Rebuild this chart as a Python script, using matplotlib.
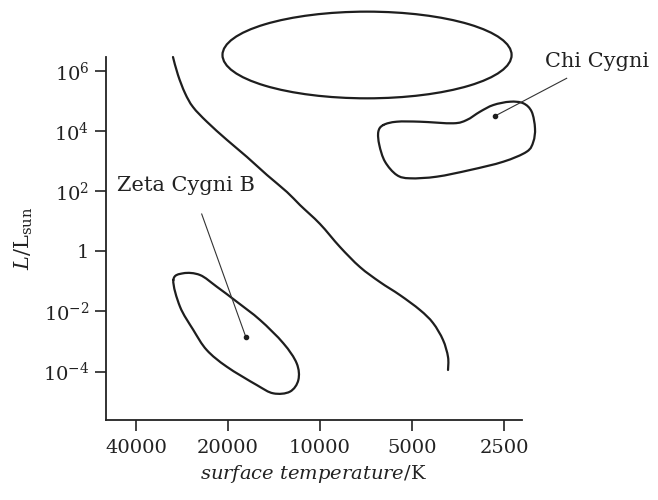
import numpy as np
import matplotlib
matplotlib.use("Agg")
import matplotlib.pyplot as plt
from matplotlib.patches import Ellipse, PathPatch
from matplotlib.path import Path

plt.rcParams['font.family'] = ['DejaVu Serif']
plt.rcParams['mathtext.fontset'] = 'dejavuserif'

# ---------------- data ----------------
x_ticks = [40000, 20000, 10000, 5000, 2500]
x_ticklabels = ['40000', '20000', '10000', '5000', '2500']
y_ticks = [1e-4, 1e-2, 1, 1e2, 1e4, 1e6]
y_ticklabels = [r'$10^{-4}$', r'$10^{-2}$', '1', r'$10^{2}$', r'$10^{4}$', r'$10^{6}$']

# main sequence
ms_T = [30270, 29150, 27650, 26030, 23430, 20150, 17330, 14910, 12820, 11630,
        10000, 8600, 7400, 6365, 5473, 4707, 4267, 3957, 3811, 3811]
ms_L = [2.85e6, 7.2e5, 1.8e5, 6.2e4, 2.0e4, 5.0e3, 1.36e3, 343, 93, 34.5,
        8.1, 1.39, 0.30, 0.095, 0.035, 0.0112, 4.15e-3, 1.13e-3, 3.08e-4, 1.14e-4]

# giant region (closed loop)
giant_T = [6205, 5609, 4707, 3662, 3311, 2994, 2709, 2389, 2161, 2029, 1979,
           2004, 2106, 2512, 3228, 4150, 5074, 5609, 6126, 6395, 6443]
giant_L = [1.57e4, 2.02e4, 2.02e4, 1.79e4, 2.30e4, 4.35e4, 7.24e4, 9.33e4, 8.26e4,
           4.35e4, 1.22e4, 4.38e3, 2.04e3, 948, 502, 301, 266, 343, 948, 3.40e3,
           9.40e3]

# white dwarf region (closed loop)
wd_T = [30190, 28010, 24700, 21770, 18730, 15710, 13180, 11920, 11770, 12540,
        14220, 16110, 20200, 23480, 25970, 28710]
wd_L = [0.111, 0.186, 0.163, 0.0667, 0.0212, 5.22e-3, 8.79e-4, 1.90e-4, 5.30e-5,
        2.17e-5, 1.91e-5, 3.61e-5, 1.47e-4, 5.26e-4, 2.43e-3, 0.0144]

# supergiant region (ellipse): centre and full extents in decades
sg_center_T = 7015
sg_center_L = 3.33e6
sg_width_dec = 0.946
sg_height_dec = 2.88

# annotations
chi_label = 'Chi Cygni'
chi_star = (2674, 3.13e4)
chi_line_start = (1559, 5.6e5)
chi_text_pos = (1835, 1.95e6)

zeta_label = 'Zeta Cygni B'
zeta_star = (17500, 1.46e-3)
zeta_line_start = (24380, 17.3)
zeta_text_pos = (46150, 148)


def smooth_path(xs, ys, closed):
    """Catmull-Rom curve through the given points (log space) as a Bezier path."""
    P = np.column_stack([np.log10(xs), np.log10(ys)])
    n = len(P)
    if closed:
        idx = lambda i: P[i % n]
        segs = n
    else:
        idx = lambda i: P[min(max(i, 0), n - 1)]
        segs = n - 1
    verts = [P[0]]
    codes = [Path.MOVETO]
    for i in range(segs):
        p0, p1, p2, p3 = idx(i - 1), idx(i), idx(i + 1), idx(i + 2)
        c1 = p1 + (p2 - p0) / 6.0
        c2 = p2 - (p3 - p1) / 6.0
        verts += [c1, c2, p2]
        codes += [Path.CURVE4] * 3
    return Path(np.array(verts), codes)


# ---------------- figure ----------------
fig = plt.figure(figsize=(6.58, 5.0), dpi=100)
ax = fig.add_axes([0.1611, 0.16, 0.6318, 0.7266])
ax.set_xscale('log')
ax.set_yscale('log')
ax.set_xlim(50140, 2187)
ax.set_ylim(2.48e-6, 2.92e6)

lc = '#1e1e1e'
lw = 1.6
log_tr = ax.transLimits + ax.transAxes

for xs, ys, closed in [(ms_T, ms_L, False), (giant_T, giant_L, True), (wd_T, wd_L, True)]:
    patch = PathPatch(smooth_path(xs, ys, closed), fill=False, edgecolor=lc, lw=lw,
                      capstyle='round', joinstyle='round', transform=log_tr,
                      clip_on=False)
    ax.add_patch(patch)

ell = Ellipse((np.log10(sg_center_T), np.log10(sg_center_L)),
              sg_width_dec, sg_height_dec, transform=log_tr,
              fill=False, edgecolor=lc, lw=lw, clip_on=False)
ax.add_patch(ell)

# annotations
for start, star, label, tpos in [(chi_line_start, chi_star, chi_label, chi_text_pos),
                                  (zeta_line_start, zeta_star, zeta_label, zeta_text_pos)]:
    ax.plot([start[0], star[0]], [start[1], star[1]], color='#333333', lw=0.8,
            clip_on=False)
    ax.plot([star[0]], [star[1]], 'o', color=lc, ms=3, clip_on=False)
    ax.text(tpos[0], tpos[1], label, ha='left', va='center', fontsize=15,
            color='#222222', clip_on=False)

# axes styling
for s in ['top', 'right']:
    ax.spines[s].set_visible(False)
for s in ['left', 'bottom']:
    ax.spines[s].set_linewidth(1.3)
    ax.spines[s].set_color('#222222')

ax.set_xticks(x_ticks)
ax.set_xticklabels(x_ticklabels)
ax.set_yticks(y_ticks)
ax.set_yticklabels(y_ticklabels)
ax.minorticks_off()
ax.tick_params(axis='both', direction='out', length=8, width=1.2, colors='#222222',
               labelsize=14, labelcolor='#222222')
ax.tick_params(axis='x', pad=6)
ax.tick_params(axis='y', pad=4)

ax.set_xlabel(r'$\mathit{surface\ temperature}/\mathrm{K}$', fontsize=14,
              color='#222222', labelpad=4)
ax.set_ylabel(r'$\mathit{L}/\mathrm{L}_{\mathrm{sun}}$', fontsize=15,
              color='#222222', labelpad=6)

fig.savefig('out.png', dpi=100, facecolor='white')
